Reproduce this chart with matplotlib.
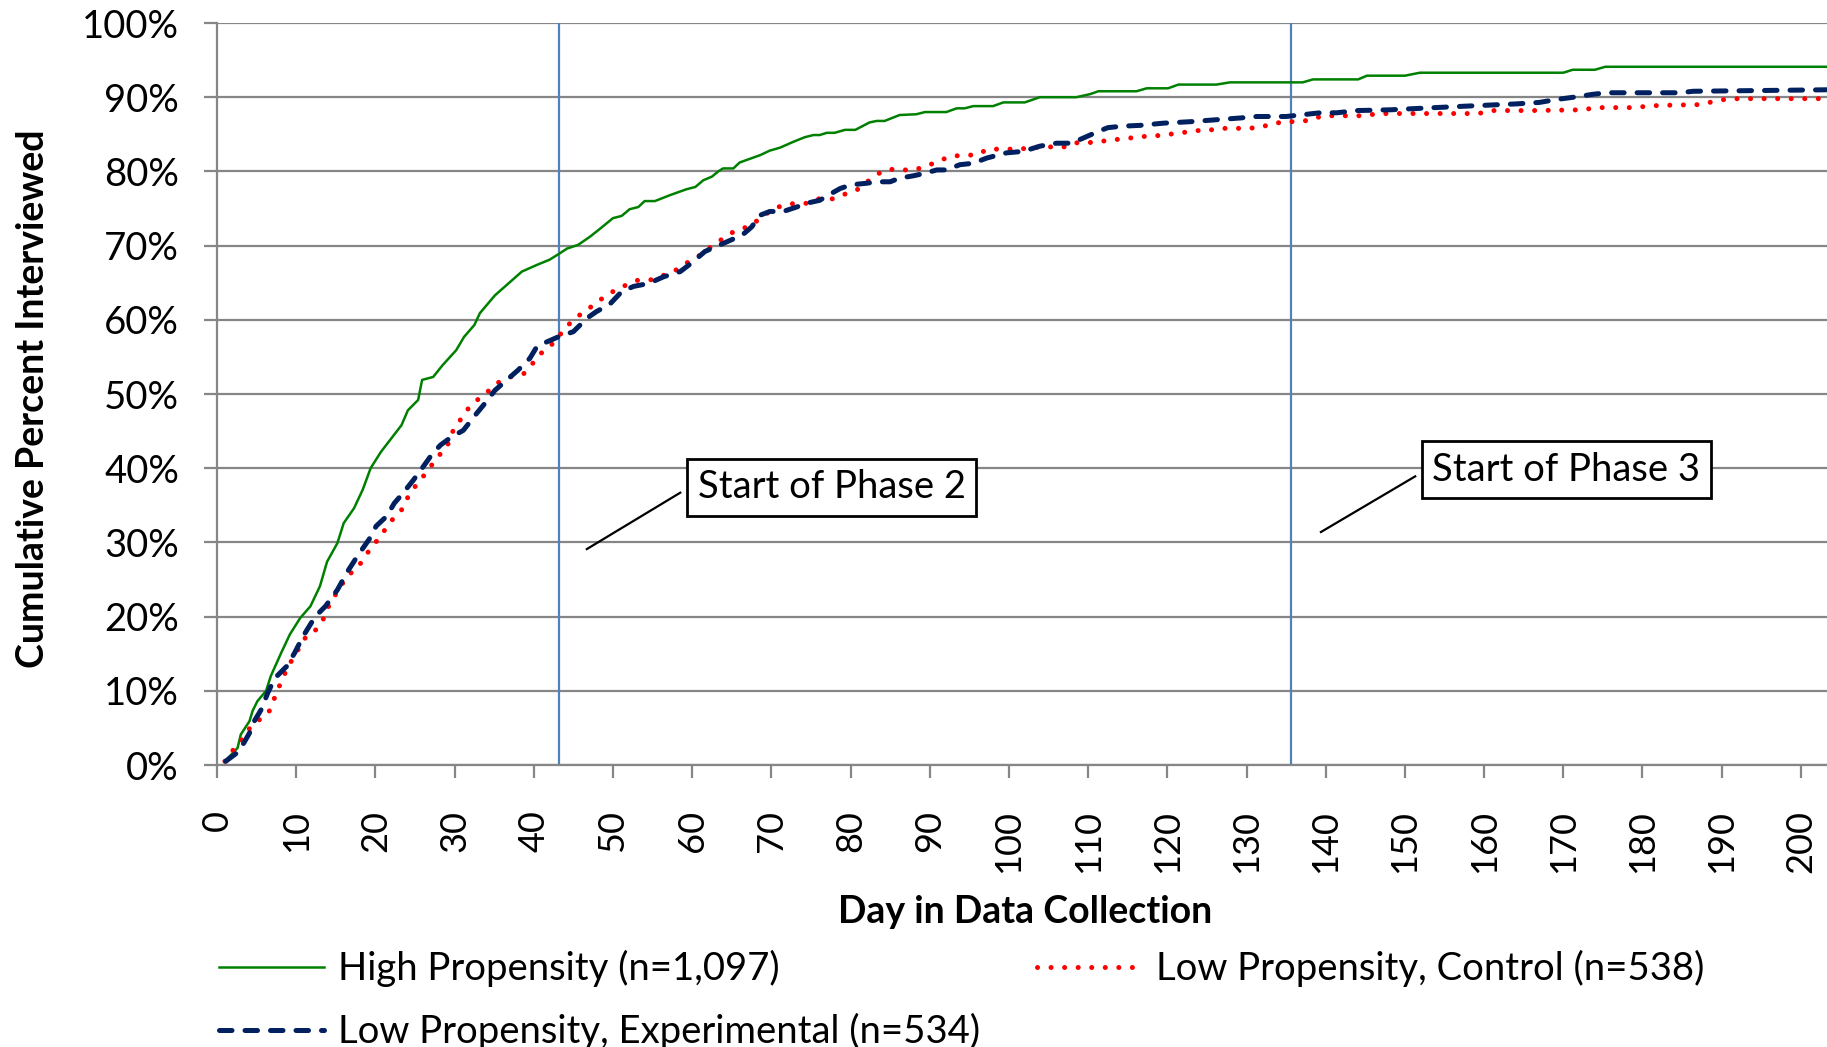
import matplotlib.pyplot as plt
from matplotlib.ticker import FuncFormatter, MultipleLocator

plt.rcParams['font.family'] = ['Lato', 'DejaVu Sans']

# day in data collection / cumulative percent interviewed
high_day = [1, 2.6, 3, 4.1, 4.5, 5.1, 6.2, 6.8, 8.1, 9.2, 10.5, 11.8, 13.0, 13.9, 15.2, 16.0,
            17.3, 18.4, 19.4, 20.7, 22.0, 23.3, 24.1, 25.4, 25.9, 27.3, 28.5, 30.2, 31.2, 32.5,
            33.2, 35.1, 36.8, 38.5, 40.4, 42.0, 43.2, 44.2, 45.6, 47.1, 48.4, 50.0, 51.1, 52.1,
            53.2, 54.0, 55.3, 57.2, 59.3, 60.4, 61.4, 62.5, 63.3, 63.9, 65.2, 66.0, 67.3, 68.6,
            69.8, 71.1, 72.8, 74.2, 75.3, 76.1, 77.0, 78.0, 79.3, 80.6, 82.4, 83.3, 84.3, 86.2,
            88.3, 89.4, 92.1, 93.4, 94.4, 95.5, 98.0, 99.3, 102.0, 103.9, 108.5, 110.2, 111.3,
            116.1, 117.4, 120.1, 121.4, 126.2, 127.9, 137.1, 138.4, 144.1, 145.2, 150.0, 151.9,
            170.0, 171.2, 174.0, 175.3, 203.3]
high_pct = [0.5, 2.3, 4.1, 5.9, 7.3, 8.6, 10.0, 12.0, 15.1, 17.6, 19.8, 21.4, 24.1, 27.4, 29.9,
            32.6, 34.6, 37.1, 40.0, 42.2, 44.0, 45.8, 47.8, 49.2, 51.9, 52.3, 53.9, 55.9, 57.7,
            59.3, 60.9, 63.3, 64.9, 66.5, 67.4, 68.1, 68.9, 69.6, 70.1, 71.2, 72.3, 73.7, 74.0,
            74.9, 75.2, 76.0, 76.0, 76.8, 77.6, 77.9, 78.8, 79.3, 80.0, 80.4, 80.4, 81.2, 81.7,
            82.2, 82.8, 83.2, 84.0, 84.6, 84.9, 84.9, 85.2, 85.2, 85.6, 85.6, 86.6, 86.8, 86.8,
            87.6, 87.7, 88.0, 88.0, 88.5, 88.5, 88.8, 88.8, 89.3, 89.3, 90.0, 90.0, 90.4, 90.8,
            90.8, 91.2, 91.2, 91.7, 91.7, 92.0, 92.0, 92.4, 92.4, 92.9, 92.9, 93.3, 93.3, 93.7,
            93.7, 94.1, 94.1]

ctrl_day = [1, 2.1, 3.2, 4.1, 5.1, 6.5, 7.1, 7.7, 8.3, 9.0, 10.5, 11.3, 12.6, 13.5, 14.1, 15.6,
            16.7, 17.7, 18.7, 19.6, 20.6, 21.5, 22.4, 23.5, 24.1, 25.0, 25.9, 26.9, 27.9, 29.0,
            29.5, 30.1, 31.0, 31.9, 33.1, 34.4, 35.6, 37.0, 38.7, 39.7, 40.7, 41.9, 42.9, 43.9,
            45.1, 46.3, 47.6, 48.9, 50.3, 51.7, 53.3, 54.9, 56.4, 57.8, 59.2, 60.6, 61.8, 63.2,
            64.4, 65.9, 67.3, 68.6, 69.8, 71.3, 73.0, 74.4, 75.9, 77.7, 79.2, 80.8, 83.3, 84.8,
            86.4, 88.0, 89.6, 91.1, 92.6, 94.2, 95.8, 97.4, 100.8, 102.3, 103.9, 107.2, 108.7,
            110.4, 112.0, 113.6, 115.3, 116.9, 118.6, 120.2, 121.8, 123.5, 125.0, 126.6, 129.9,
            131.6, 133.2, 134.8, 136.4, 138.0, 139.6, 144.5, 146.1, 147.8, 159.3, 161.0, 166.0,
            172.5, 174.1, 179.0, 180.7, 182.3, 187.2, 188.9, 190.4, 192.1, 203.3]
ctrl_pct = [0.5, 2.1, 3.5, 4.9, 5.9, 7.0, 8.6, 10.2, 11.7, 13.3, 16.0, 17.4, 18.3, 19.8, 21.4,
            24.1, 25.7, 26.5, 28.1, 29.5, 30.7, 32.2, 33.4, 34.6, 36.1, 37.5, 38.7, 40.1, 41.6,
            42.7, 44.4, 45.6, 46.9, 48.3, 49.4, 50.5, 51.6, 52.3, 52.7, 53.9, 55.3, 56.3, 57.3,
            58.9, 60.0, 61.1, 62.0, 63.1, 64.0, 64.7, 65.4, 65.4, 66.0, 66.6, 67.6, 68.4, 69.4,
            70.4, 71.4, 72.2, 72.6, 73.7, 74.6, 75.4, 75.7, 75.7, 76.3, 76.3, 76.9, 77.5, 79.6,
            80.3, 80.2, 80.2, 80.7, 81.4, 82.0, 82.2, 82.2, 83.0, 83.0, 83.1, 83.3, 83.3, 83.9,
            83.9, 84.1, 84.3, 84.5, 84.7, 84.8, 85.0, 85.2, 85.5, 85.5, 85.8, 85.8, 85.9, 86.4,
            86.7, 86.7, 86.9, 87.5, 87.5, 87.7, 87.8, 87.8, 88.2, 88.2, 88.3, 88.6, 88.6, 88.8,
            88.9, 89.0, 89.4, 89.7, 89.8, 89.8]

exp_day = [1.1, 2.6, 3.4, 4.1, 4.7, 5.6, 6.4, 7.3, 8.8, 9.8, 10.9, 12.4, 13.7, 15.2, 16.5, 17.7,
           19.2, 20.1, 21.4, 22.4, 23.3, 24.8, 25.9, 27.1, 28.2, 29.6, 31.1, 32.8, 33.8, 35.1,
           36.6, 38.0, 39.5, 40.4, 41.6, 43.1, 45.0, 46.7, 47.9, 49.6, 51.1, 52.6, 54.5, 56.4,
           58.5, 60.1, 61.6, 63.1, 65.0, 66.3, 67.5, 68.6, 69.8, 71.5, 73.2, 74.4, 76.1, 77.2,
           78.7, 80.1, 82.0, 83.3, 85.0, 86.2, 87.9, 89.2, 90.9, 92.1, 93.8, 95.5, 97.2, 99.7,
           101.8, 103.9, 106.0, 107.9, 109.4, 111.1, 112.5, 114.4, 116.5, 119.5, 122.9, 125.4,
           129.2, 131.3, 135.0, 137.6, 139.3, 141.4, 143.9, 148.1, 151.9, 157.8, 164.1, 167.0,
           169.2, 171.3, 173.8, 175.5, 184.7, 186.4, 203.3]
exp_pct = [0.5, 1.7, 3.0, 4.3, 5.9, 7.5, 9.7, 11.7, 13.3, 15.1, 17.4, 20.0, 21.4, 23.6, 26.1,
           28.1, 30.4, 32.2, 33.5, 35.3, 36.4, 38.4, 40.0, 41.8, 43.1, 44.2, 45.1, 47.4, 48.7,
           50.5, 51.9, 53.2, 54.8, 56.4, 57.0, 57.7, 58.4, 60.2, 61.1, 62.1, 63.8, 64.5, 64.9,
           65.8, 66.5, 67.8, 69.2, 69.9, 70.8, 71.4, 72.5, 74.1, 74.6, 74.6, 75.2, 75.7, 76.1,
           76.8, 77.7, 78.2, 78.4, 78.6, 78.6, 79.1, 79.4, 79.7, 80.2, 80.2, 80.9, 81.1, 81.8,
           82.5, 82.7, 83.4, 83.8, 83.8, 84.5, 85.3, 85.9, 86.1, 86.2, 86.5, 86.7, 86.9, 87.2,
           87.4, 87.4, 87.7, 87.9, 87.9, 88.2, 88.3, 88.5, 88.8, 89.1, 89.3, 89.7, 90.0, 90.4,
           90.6, 90.6, 90.8, 91.0]

phase_days = [43.2, 135.6]
phase_labels = ['Start of Phase 2', 'Start of Phase 3']
label_pos = [(77.6, 37.4), (170.4, 39.8)]
leader_from = [(58.5, 36.7), (151.3, 38.9)]
leader_to = [(46.7, 29.1), (139.4, 31.4)]

grid_gray = '#868686'

fig = plt.figure(figsize=(18.27, 10.47), dpi=100)
ax = fig.add_axes([0.11877, 0.26934, 0.88123, 0.70869])

ax.set_xlim(0, 203.3)
ax.set_ylim(0, 100)
ax.yaxis.set_major_locator(MultipleLocator(10))
ax.xaxis.set_major_locator(MultipleLocator(10))
ax.yaxis.set_major_formatter(FuncFormatter(lambda v, p: f'{v:.0f}%'))
ax.grid(axis='y', color=grid_gray, lw=1.6, zorder=0)
ax.set_axisbelow(True)
for s in ['top', 'right']:
    ax.spines[s].set_visible(False)
for s in ['left', 'bottom']:
    ax.spines[s].set_color(grid_gray)
    ax.spines[s].set_linewidth(1.6)
ax.tick_params(axis='both', direction='out', length=9.4, width=1.6, color=grid_gray,
               labelcolor='black')
ax.tick_params(axis='y', pad=18, labelsize=27.5)
ax.tick_params(axis='x', pad=23, labelrotation=90, labelsize=26)

for d in phase_days:
    ax.axvline(d, color='#4F81BD', lw=1.6, zorder=1)

l_high, = ax.plot(high_day, high_pct, color='#008000', lw=1.8, zorder=3,
                  label='High Propensity (n=1,097)')
l_ctrl, = ax.plot(ctrl_day, ctrl_pct, color='#FF0000', lw=3.6, zorder=3,
                  linestyle=(0, (0.01, 2.7)), dash_capstyle='round',
                  label='Low Propensity, Control (n=538)')
l_exp, = ax.plot(exp_day, exp_pct, color='#002060', lw=3.6, zorder=4,
                 linestyle=(0, (2.5, 2.6)), dash_capstyle='round',
                 label='Low Propensity, Experimental (n=534)')

for txt, pos, a, b in zip(phase_labels, label_pos, leader_from, leader_to):
    ax.plot([a[0], b[0]], [a[1], b[1]], color='black', lw=1.6, zorder=5)
    ax.text(pos[0], pos[1], txt, fontsize=27.5, ha='center', va='center', zorder=6,
            bbox=dict(boxstyle='square,pad=0.28', fc='white', ec='black', lw=2))

ax.set_xlabel('Day in Data Collection', fontsize=27, fontweight='bold', va='center')
ax.xaxis.set_label_coords(0.502, -0.198)
ax.set_ylabel('Cumulative Percent Interviewed', fontsize=27, fontweight='bold', va='center')
ax.yaxis.set_label_coords(-0.1145, 0.493)

leg_kw = dict(loc='upper left', frameon=False, fontsize=27.5, borderpad=0, borderaxespad=0,
              handlelength=2.75, handletextpad=0.37, labelspacing=0.67)
fig.legend(handles=[l_high, l_exp], bbox_to_anchor=(219 / 1827, 1 - 950 / 1047), **leg_kw)
fig.legend(handles=[l_ctrl], bbox_to_anchor=(1037 / 1827, 1 - 950 / 1047), **leg_kw)

fig.savefig('out.png', dpi=100)
